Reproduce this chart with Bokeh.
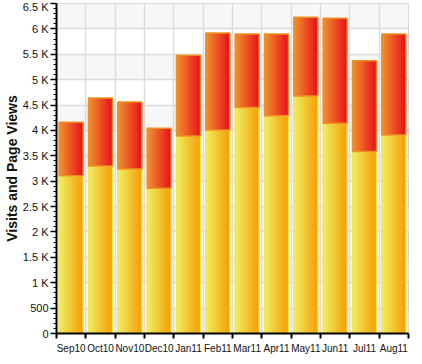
from bokeh.plotting import figure
from bokeh.models import Range1d, FixedTicker
from bokeh.embed import file_html
from bokeh.resources import INLINE

months = ["Sep10", "Oct10", "Nov10", "Dec10", "Jan11", "Feb11",
          "Mar11", "Apr11", "May11", "Jun11", "Jul11", "Aug11"]
visits = [3105, 3300, 3240, 2860, 3890, 4010, 4450, 4290, 4680, 4140, 3585, 3910]
page_views = [1055, 1340, 1320, 1185, 1590, 1910, 1450, 1610, 1550, 2070, 1785, 1990]
y_ticks = [0, 500, 1000, 1500, 2000, 2500, 3000, 3500, 4000, 4500, 5000, 5500, 6000, 6500]
y_labels = ["0", "500", "1 K", "1.5 K", "2 K", "2.5 K", "3 K", "3.5 K", "4 K",
            "4.5 K", "5 K", "5.5 K", "6 K", "6.5 K"]

FONT = "Liberation Sans"
n = len(months)
centers = [i + 0.5 for i in range(n)]
totals = [v + p for v, p in zip(visits, page_views)]

p = figure(width=414, height=356, output_backend="svg", toolbar_location=None,
           x_range=Range1d(0, n), y_range=Range1d(0, y_ticks[-1]),
           min_border_left=45, min_border_right=6, min_border_top=3,
           min_border_bottom=21)
p.background_fill_color = "white"
p.border_fill_color = "white"
p.outline_line_color = "#cfcfcf"
p.outline_line_width = 1

# alternating background bands
band_b = [y_ticks[i] for i in range(0, len(y_ticks) - 1, 2)]
band_t = [y_ticks[i + 1] for i in range(0, len(y_ticks) - 1, 2)]
bands = p.quad(left=0, right=n, bottom=band_b, top=band_t,
               fill_color="#f7f7f7", line_color=None)
bands.level = "image"


def hexmix(c1, c2, t):
    a = [int(c1[i:i + 2], 16) for i in (1, 3, 5)]
    b = [int(c2[i:i + 2], 16) for i in (1, 3, 5)]
    return "#" + "".join("%02x" % round(a[k] + (b[k] - a[k]) * t) for k in range(3))


W = 0.82
N = 10
sw = W / N
series = [
    (visits, [0] * n, "#f0ea5c", "#f5a108", "#f7e64a"),
    (totals, visits, "#ef8c2e", "#e8161a", "#ef8e22"),
]
for tops, bottoms, c1, c2, edge in series:
    for k in range(N):
        left = -W / 2 + k * sw
        right = min(left + 2 * sw, W / 2)
        col = hexmix(c1, c2, k / (N - 1))
        p.vbar(x=[c + (left + right) / 2 for c in centers], width=right - left,
               top=tops, bottom=bottoms, fill_color=col, line_color=None)
    p.vbar(x=centers, width=W, top=tops, bottom=bottoms, fill_color=None,
           line_color=edge, line_width=1.5)

# axes
p.xaxis.ticker = FixedTicker(ticks=centers, minor_ticks=list(range(n + 1)))
p.xaxis.major_label_overrides = {c: m for c, m in zip(centers, months)}
p.xaxis.major_tick_line_color = None
p.xaxis.minor_tick_in = 0
p.xaxis.minor_tick_out = 5
p.xaxis.minor_tick_line_color = "black"
p.xaxis.minor_tick_line_width = 2
p.xaxis.axis_line_color = "black"
p.xaxis.axis_line_width = 2
p.xaxis.major_label_standoff = 3
p.xaxis.major_label_text_font = FONT
p.xaxis.major_label_text_font_size = "10px"
p.xaxis.major_label_text_color = "#111111"

p.yaxis.ticker = FixedTicker(ticks=y_ticks, minor_ticks=list(range(0, y_ticks[-1] + 1, 100)))
p.yaxis.major_label_overrides = {t: l for t, l in zip(y_ticks, y_labels)}
p.yaxis.major_tick_in = 0
p.yaxis.major_tick_out = 6
p.yaxis.minor_tick_in = 0
p.yaxis.minor_tick_out = 3
p.yaxis.major_tick_line_width = 1.5
p.yaxis.minor_tick_line_width = 1
p.yaxis.axis_line_color = "black"
p.yaxis.axis_line_width = 2
p.yaxis.major_label_standoff = 2
p.yaxis.major_label_text_font = FONT
p.yaxis.major_label_text_font_size = "11px"
p.yaxis.major_label_text_color = "#111111"
p.yaxis.axis_label = "Visits and Page Views"
p.yaxis.axis_label_text_font = FONT
p.yaxis.axis_label_text_font_style = "bold"
p.yaxis.axis_label_text_font_size = "14px"
p.yaxis.axis_label_text_color = "#111111"
p.yaxis.axis_label_standoff = 0

# grids
p.xgrid.ticker = FixedTicker(ticks=centers, minor_ticks=list(range(n + 1)))
p.xgrid.grid_line_color = None
p.xgrid.minor_grid_line_color = "#dcdcdc"
p.xgrid.minor_grid_line_width = 1.5
p.ygrid.ticker = FixedTicker(ticks=y_ticks)
p.ygrid.grid_line_color = "#dcdcdc"
p.ygrid.grid_line_width = 1.5

open("out.html", "w").write(file_html(p, INLINE))
